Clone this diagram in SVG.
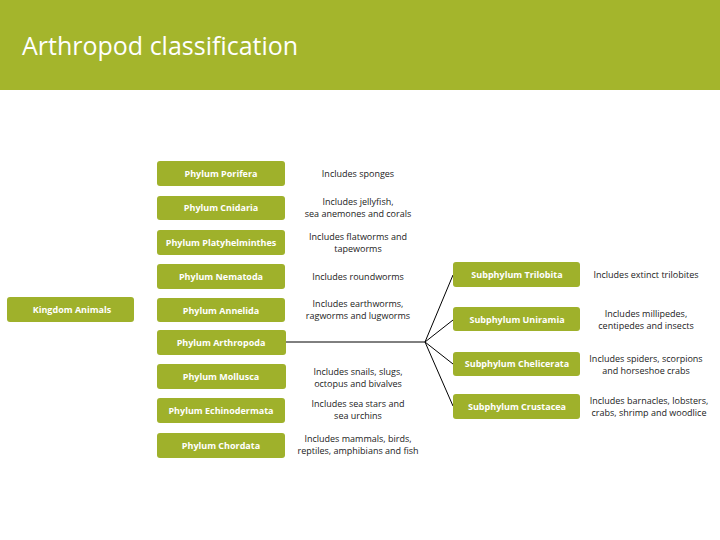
<svg xmlns="http://www.w3.org/2000/svg" width="720" height="540" viewBox="0 0 720 540">
<style>
.b{fill:#9fb12b}
.bt{font-family:"Open Sans","Liberation Sans",sans-serif;font-size:9px;font-weight:bold;fill:#fff;text-anchor:middle}
.d{font-family:"Open Sans","Liberation Sans",sans-serif;font-size:9px;fill:#222;text-anchor:middle}
.c{stroke:#000;stroke-width:1;fill:none}
</style>
<rect width="720" height="540" fill="#fff"/>
<rect width="720" height="90" fill="#a4b52c"/>
<text x="22" y="55" font-family="Open Sans, Liberation Sans, sans-serif" font-size="25" fill="#fff">Arthropod classification</text>
<g id="connectors">
<path class="c" d="M286 342H425M425 342L453 275M425 342L453 320M425 342L453 364M425 342L453 406"/>
</g>
<g id="kingdom"><rect class="b" x="7" y="297" width="127" height="25" rx="3"/><text class="bt" x="72" y="313">Kingdom Animals</text></g>
<g id="porifera"><rect class="b" x="157" y="161" width="128" height="25" rx="3"/><text class="bt" x="221" y="177">Phylum Porifera</text><text class="d" x="358" y="177">Includes sponges</text></g>
<g id="cnidaria"><rect class="b" x="157" y="196" width="128" height="24" rx="3"/><text class="bt" x="221" y="211">Phylum Cnidaria</text><text class="d" x="358" y="205">Includes jellyfish,</text><text class="d" x="358" y="217">sea anemones and corals</text></g>
<g id="platy"><rect class="b" x="157" y="230" width="128" height="25" rx="3"/><text class="bt" x="221" y="246">Phylum Platyhelminthes</text><text class="d" x="358" y="240">Includes flatworms and</text><text class="d" x="358" y="252">tapeworms</text></g>
<g id="nematoda"><rect class="b" x="157" y="264" width="128" height="25" rx="3"/><text class="bt" x="221" y="280">Phylum  Nematoda</text><text class="d" x="358" y="280">Includes roundworms</text></g>
<g id="annelida"><rect class="b" x="157" y="298" width="128" height="24" rx="3"/><text class="bt" x="221" y="314">Phylum Annelida</text><text class="d" x="358" y="307">Includes earthworms,</text><text class="d" x="358" y="319">ragworms and lugworms</text></g>
<g id="arthropoda"><rect class="b" x="157" y="330" width="129" height="25" rx="3"/><text class="bt" x="221" y="346">Phylum Arthropoda</text></g>
<g id="mollusca"><rect class="b" x="157" y="364" width="129" height="25" rx="3"/><text class="bt" x="221" y="380">Phylum Mollusca</text><text class="d" x="358" y="375">Includes snails, slugs,</text><text class="d" x="358" y="387">octopus and bivalves</text></g>
<g id="echino"><rect class="b" x="157" y="398" width="128" height="25" rx="3"/><text class="bt" x="221" y="414">Phylum Echinodermata</text><text class="d" x="358" y="407">Includes sea stars and</text><text class="d" x="358" y="419">sea urchins</text></g>
<g id="chordata"><rect class="b" x="157" y="433" width="128" height="25" rx="3"/><text class="bt" x="221" y="449">Phylum Chordata</text><text class="d" x="358" y="442">Includes mammals, birds,</text><text class="d" x="358" y="454">reptiles, amphibians and fish</text></g>
<g id="trilobita"><rect class="b" x="453" y="262" width="127" height="25" rx="3"/><text class="bt" x="517" y="278">Subphylum Trilobita</text><text class="d" x="646" y="278">Includes extinct trilobites</text></g>
<g id="uniramia"><rect class="b" x="453" y="307" width="127" height="24" rx="3"/><text class="bt" x="517" y="323">Subphylum Uniramia</text><text class="d" x="646" y="317">Includes millipedes,</text><text class="d" x="646" y="329">centipedes and insects</text></g>
<g id="chelicerata"><rect class="b" x="453" y="352" width="127" height="24" rx="3"/><text class="bt" x="517" y="367">Subphylum Chelicerata</text><text class="d" x="646" y="362">Includes spiders, scorpions</text><text class="d" x="646" y="374">and horseshoe crabs</text></g>
<g id="crustacea"><rect class="b" x="453" y="394" width="127" height="25" rx="3"/><text class="bt" x="517" y="410">Subphylum Crustacea</text><text class="d" x="649" y="404">Includes barnacles, lobsters,</text><text class="d" x="649" y="416">crabs, shrimp and woodlice</text></g>
</svg>
